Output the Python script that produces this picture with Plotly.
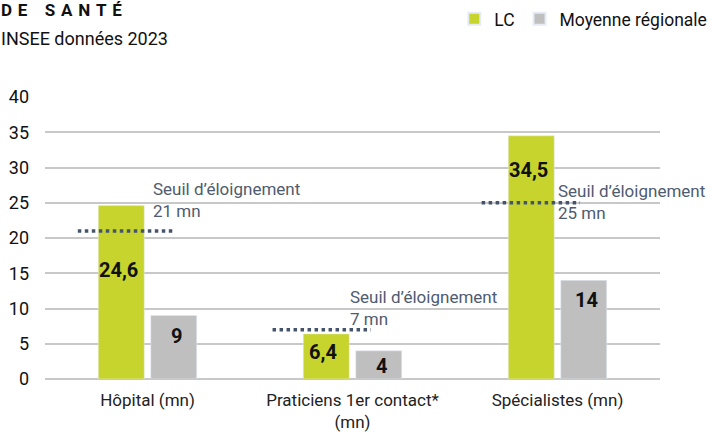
import plotly.graph_objects as go

# ── Data ──────────────────────────────────────────────────
categories = ["Hôpital (mn)", "Praticiens 1er contact*<br>(mn)", "Spécialistes (mn)"]
lc_values = [24.6, 6.4, 34.5]
region_values = [9, 4, 14]
lc_labels = ["24,6", "6,4", "34,5"]
region_labels = ["9", "4", "14"]
thresholds = [21, 7, 25]
threshold_labels = ["Seuil d’éloignement<br>21 mn", "Seuil d’éloignement<br>7 mn",
                    "Seuil d’éloignement<br>25 mn"]

LC_COLOR = "#C8D42E"
REG_COLOR = "#BFBFBF"
SLATE = "#44546A"
FONT = "Roboto"

x_pos = list(range(len(categories)))

fig = go.Figure()
fig.add_trace(go.Bar(x=x_pos, y=lc_values, name="LC", marker_color=LC_COLOR))
fig.add_trace(go.Bar(x=x_pos, y=region_values, name="Moyenne régionale", marker_color=REG_COLOR))

# value labels (placed by hand in the original)
lc_label_y = [15.5, 3.8, 29.6]
reg_label_y = [6.1, 1.8, 11.2]
for i in x_pos:
    fig.add_annotation(x=i - 0.143, y=lc_label_y[i], text=f"<b>{lc_labels[i]}</b>", showarrow=False,
                       font=dict(family=FONT, size=20, color="#111"))
    fig.add_annotation(x=i + 0.143, y=reg_label_y[i], text=f"<b>{region_labels[i]}</b>", showarrow=False,
                       font=dict(family=FONT, size=20, color="#111"))

# threshold lines + captions
line_span = [(-0.34, 0.13), (-0.39, 0.09), (-0.37, 0.11)]
text_x = [0.017, -0.022, -0.008]
text_y = [28.6, 13.3, 28.4]
for i in x_pos:
    fig.add_shape(type="line", xref="x", yref="y", x0=i + line_span[i][0], x1=i + line_span[i][1],
                  y0=thresholds[i], y1=thresholds[i], line=dict(color=SLATE, width=3.5, dash="dot"))
    fig.add_annotation(x=i + text_x[i], y=text_y[i], text=threshold_labels[i], showarrow=False,
                       xanchor="left", yanchor="top", align="left",
                       font=dict(family=FONT, size=17, color="#4F5B6E"))

# header text
sp, wsp = "\u2004", "\u2003"
header = sp.join("DE") + wsp + sp.join("SANTÉ")
fig.add_annotation(xref="paper", yref="paper", x=-0.075, y=1.309, xanchor="left", yanchor="middle",
                   text=f"<b>{header}</b>", showarrow=False,
                   font=dict(family=FONT, size=17, color="#111"))
fig.add_annotation(xref="paper", yref="paper", x=-0.075, y=1.206, xanchor="left", yanchor="middle",
                   text="INSEE données 2023", showarrow=False,
                   font=dict(family=FONT, size=18, color="#111"))

fig.update_layout(
    width=708, height=434,
    margin=dict(l=45, r=48, t=97, b=55, autoexpand=False),
    paper_bgcolor="white", plot_bgcolor="white",
    font=dict(family=FONT, size=17, color="#222"),
    barmode="group", bargap=0.488, bargroupgap=0.124,
    showlegend=True,
    legend=dict(orientation="h", x=1.085, xanchor="right", y=1.277, yanchor="middle",
                font=dict(family=FONT, size=17.5, color="#111"), itemwidth=30,
                itemsizing="constant", traceorder="normal", bgcolor="rgba(0,0,0,0)"),
    xaxis=dict(tickmode="array", tickvals=x_pos, ticktext=categories, range=[-0.5, 2.5],
               showgrid=False, zeroline=False, showline=False, ticks="", automargin=False,
               tickfont=dict(family=FONT, size=17, color="#222"), ticklabelstandoff=9),
    yaxis=dict(range=[0, 40], dtick=5, showgrid=True, gridcolor="#C8C8C8", gridwidth=1.5,
               zeroline=True, zerolinecolor="#C8C8C8", zerolinewidth=1.5, ticks="", automargin=False,
               tickfont=dict(family=FONT, size=18, color="#111"), ticklabelstandoff=15),
)

# the page body has a default 8px margin; drop it so the figure sits at the window origin
fig.write_html("out.html", config={"displayModeBar": False},
               post_script="document.body.style.margin='0';")
